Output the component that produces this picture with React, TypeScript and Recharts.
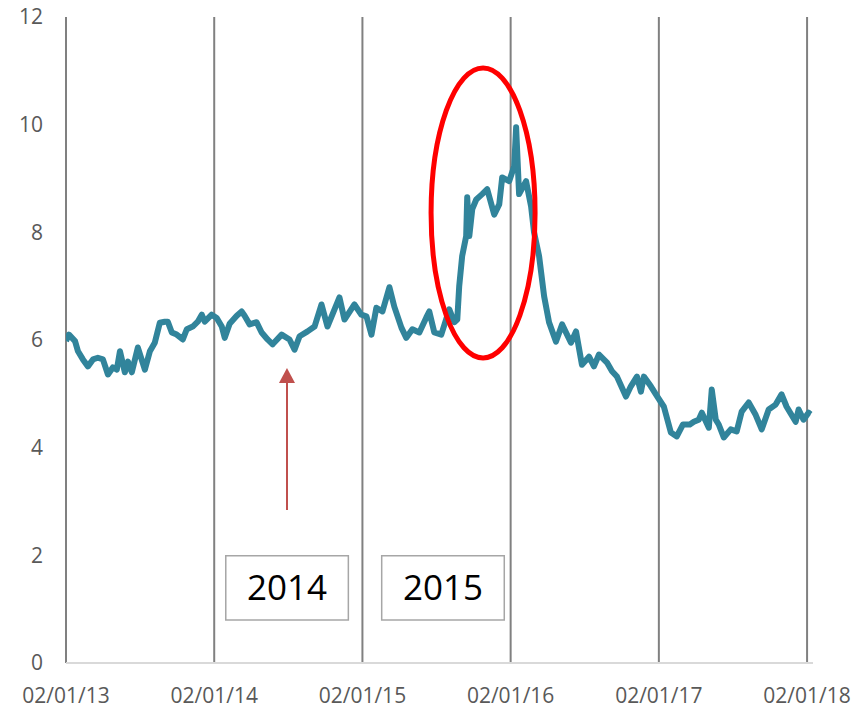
import React from 'react';
import {
  LineChart,
  Line,
  XAxis,
  YAxis,
  ReferenceLine,
  ReferenceArea,
  ReferenceDot,
} from 'recharts';

// years elapsed since 02/01/13
const yearOffsets = [
  0, 0.02, 0.061, 0.081, 0.114, 0.148, 0.182, 0.215, 0.249, 0.283, 0.316, 0.343, 0.364, 0.397, 0.418, 0.444,
  0.485, 0.532, 0.566, 0.599, 0.633, 0.667, 0.687, 0.714, 0.747, 0.788, 0.815, 0.855, 0.889, 0.916, 0.936, 0.983,
  1.017, 1.051, 1.071, 1.104, 1.152, 1.185, 1.205, 1.239, 1.286, 1.32, 1.36, 1.394, 1.455, 1.508, 1.542, 1.576,
  1.63, 1.677, 1.724, 1.764, 1.845, 1.879, 1.946, 1.993, 2.027, 2.061, 2.094, 2.135, 2.182, 2.215, 2.263, 2.296,
  2.337, 2.384, 2.431, 2.451, 2.485, 2.532, 2.586, 2.62, 2.64, 2.653, 2.673, 2.7, 2.707, 2.721, 2.741, 2.768,
  2.808, 2.842, 2.889, 2.923, 2.943, 2.99, 3.024, 3.037, 3.057, 3.104, 3.138, 3.158, 3.192, 3.226, 3.259, 3.306,
  3.347, 3.407, 3.441, 3.481, 3.529, 3.562, 3.596, 3.65, 3.684, 3.717, 3.778, 3.811, 3.852, 3.879, 3.899, 3.946,
  3.98, 4.034, 4.081, 4.121, 4.162, 4.209, 4.236, 4.269, 4.29, 4.337, 4.357, 4.384, 4.404, 4.438, 4.485, 4.525,
  4.559, 4.606, 4.653, 4.694, 4.741, 4.788, 4.828, 4.862, 4.923, 4.943, 4.976, 5.01, 5.024,
];

const values = [
  5.98, 6.1, 5.98, 5.79, 5.64, 5.51, 5.64, 5.67, 5.64, 5.36, 5.49, 5.45, 5.79, 5.4, 5.6, 5.4,
  5.86, 5.45, 5.79, 5.95, 6.32, 6.34, 6.34, 6.14, 6.1, 6.01, 6.2, 6.25, 6.34, 6.47, 6.34, 6.47,
  6.41, 6.25, 6.04, 6.3, 6.45, 6.53, 6.45, 6.29, 6.33, 6.14, 6.01, 5.92, 6.1, 6.01, 5.82, 6.07,
  6.16, 6.25, 6.66, 6.25, 6.79, 6.38, 6.66, 6.47, 6.44, 6.1, 6.6, 6.53, 6.98, 6.62, 6.23, 6.04,
  6.2, 6.14, 6.42, 6.53, 6.14, 6.1, 6.57, 6.33, 6.38, 7.0, 7.56, 7.93, 8.65, 7.93, 8.43, 8.61,
  8.71, 8.8, 8.33, 8.52, 9.02, 8.95, 9.23, 9.95, 8.71, 8.95, 8.48, 8.0, 7.56, 6.81, 6.33, 5.97,
  6.29, 5.95, 6.16, 5.54, 5.69, 5.51, 5.73, 5.58, 5.42, 5.32, 4.95, 5.14, 5.32, 5.04, 5.32, 5.14,
  4.99, 4.76, 4.28, 4.21, 4.43, 4.43, 4.48, 4.52, 4.65, 4.37, 5.08, 4.52, 4.43, 4.19, 4.34, 4.3,
  4.67, 4.84, 4.61, 4.34, 4.71, 4.8, 4.99, 4.76, 4.48, 4.71, 4.52, 4.65, 4.62,
];

const xTicks = [0, 1, 2, 3, 4, 5];
const xTickLabels = ['02/01/13', '02/01/14', '02/01/15', '02/01/16', '02/01/17', '02/01/18'];
const yTicks = [0, 2, 4, 6, 8, 10, 12];

const data = yearOffsets.map((t, i) => ({ t, value: values[i] }));

const FONT = '"Open Sans", sans-serif';
const tickStyle = { fill: '#595959', fontSize: 21, fontFamily: FONT };

const Ellipse = (props: any) => (
  <ellipse cx={props.cx} cy={props.cy} rx={52} ry={145} fill="none" stroke="#ff0000" strokeWidth={5} />
);

const Arrow = (props: any) => {
  const { cx, cy } = props;
  return (
    <g>
      <line x1={cx} y1={cy + 12} x2={cx} y2={cy + 142} stroke="#c0504d" strokeWidth={2} />
      <path d={`M${cx},${cy} L${cx - 8},${cy + 15} L${cx + 8},${cy + 15} Z`} fill="#c0504d" />
    </g>
  );
};

export default function App() {
  return (
    <div style={{ position: 'absolute', left: 0, top: 0, background: '#fff' }}>
      <LineChart
        width={857}
        height={709}
        data={data}
        margin={{ top: 17, right: 44, left: 0, bottom: 0 }}
      >
        {xTicks.map((t) => (
          <ReferenceLine key={`grid-${t}`} x={t} stroke="#808080" strokeWidth={2} />
        ))}
        <XAxis
          dataKey="t"
          type="number"
          domain={[0, 5.04]}
          ticks={xTicks}
          tickFormatter={(v: number) => xTickLabels[xTicks.indexOf(v)] ?? ''}
          height={46}
          tickLine={false}
          tickSize={0}
          tickMargin={25}
          axisLine={{ stroke: '#d9d9d9', strokeWidth: 2 }}
          tick={tickStyle}
          allowDataOverflow
          interval={0}
        />
        <YAxis
          type="number"
          domain={[0, 12]}
          ticks={yTicks}
          width={66}
          axisLine={false}
          tickLine={false}
          tickSize={0}
          tickMargin={23}
          tick={tickStyle}
          interval={0}
        />
        <Line
          type="linear"
          dataKey="value"
          stroke="#31849b"
          strokeWidth={6}
          strokeLinejoin="round"
          dot={false}
          isAnimationActive={false}
        />
        <ReferenceArea
          x1={1.078}
          x2={1.905}
          y1={0.8}
          y2={1.99}
          fill="#ffffff"
          fillOpacity={1}
          stroke="#a6a6a6"
          strokeWidth={1.5}
          ifOverflow="visible"
          label={{ value: '2014', position: 'center', fontSize: 35, fontFamily: FONT, fill: '#000' }}
        />
        <ReferenceArea
          x1={2.13}
          x2={2.957}
          y1={0.8}
          y2={1.99}
          fill="#ffffff"
          fillOpacity={1}
          stroke="#a6a6a6"
          strokeWidth={1.5}
          ifOverflow="visible"
          label={{ value: '2015', position: 'center', fontSize: 35, fontFamily: FONT, fill: '#000' }}
        />
        <ReferenceDot x={1.491} y={5.48} ifOverflow="visible" shape={Arrow} />
        <ReferenceDot x={2.814} y={8.36} ifOverflow="visible" shape={Ellipse} />
      </LineChart>
    </div>
  );
}
